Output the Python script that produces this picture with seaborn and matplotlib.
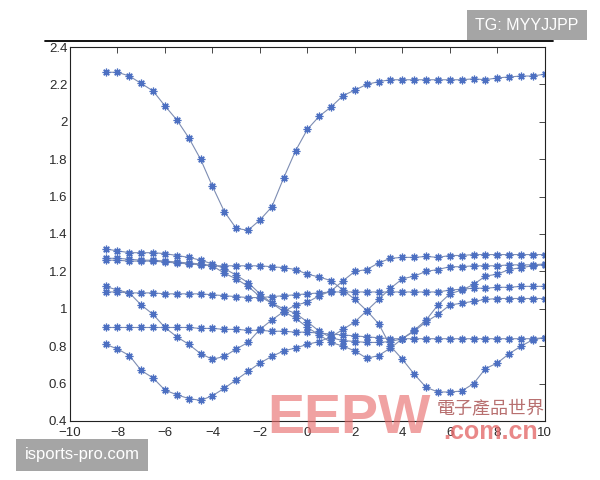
import numpy as np
import pandas as pd
import matplotlib.pyplot as plt
import seaborn as sns
from matplotlib.lines import Line2D

# x positions of the samples (every 0.5 from -8.5 to 10)
x = np.arange(-8.5, 10.01, 0.5)

top = [2.265, 2.265, 2.245, 2.205, 2.165, 2.085, 2.01, 1.915, 1.80, 1.655,
       1.52, 1.43, 1.42, 1.475, 1.545, 1.70, 1.845, 1.96, 2.03, 2.08,
       2.14, 2.17, 2.20, 2.215, 2.225, 2.225, 2.225, 2.225, 2.225, 2.225,
       2.225, 2.23, 2.225, 2.235, 2.24, 2.245, 2.245, 2.255]
curve_a = [1.32, 1.31, 1.30, 1.30, 1.30, 1.295, 1.285, 1.275, 1.26, 1.24,
           1.215, 1.18, 1.14, 1.08, 1.03, 0.985, 0.95, 0.90, 0.86, 0.82,
           0.80, 0.775, 0.735, 0.75, 0.79, 0.84, 0.88, 0.93, 0.97, 1.02,
           1.03, 1.04, 1.05, 1.055, 1.055, 1.055, 1.055, 1.055]
curve_b = [1.27, 1.27, 1.265, 1.26, 1.26, 1.255, 1.25, 1.245, 1.24, 1.23,
           1.19, 1.16, 1.12, 1.065, 1.03, 1.00, 0.975, 0.93, 0.88, 0.845,
           0.83, 0.825, 0.82, 0.82, 0.825, 0.84, 0.885, 0.94, 1.02, 1.08,
           1.10, 1.13, 1.175, 1.185, 1.21, 1.22, 1.23, 1.235]
curve_c = [1.26, 1.26, 1.255, 1.255, 1.255, 1.25, 1.245, 1.24, 1.235, 1.23,
           1.23, 1.23, 1.23, 1.23, 1.225, 1.22, 1.21, 1.185, 1.17, 1.15,
           1.10, 1.05, 0.99, 0.92, 0.80, 0.73, 0.65, 0.58, 0.555, 0.555,
           0.56, 0.60, 0.68, 0.71, 0.76, 0.80, 0.835, 0.845]
curve_d = [1.09, 1.09, 1.085, 1.085, 1.085, 1.08, 1.08, 1.08, 1.08, 1.075,
           1.07, 1.065, 1.06, 1.06, 1.065, 1.07, 1.075, 1.08, 1.085, 1.09,
           1.09, 1.09, 1.09, 1.09, 1.09, 1.09, 1.09, 1.09, 1.09, 1.10,
           1.105, 1.11, 1.11, 1.115, 1.115, 1.12, 1.12, 1.12]
curve_e = [1.12, 1.10, 1.085, 1.02, 0.97, 0.90, 0.85, 0.81, 0.76, 0.73,
           0.745, 0.785, 0.82, 0.89, 0.94, 0.985, 1.02, 1.035, 1.07, 1.095,
           1.15, 1.20, 1.21, 1.245, 1.27, 1.275, 1.275, 1.28, 1.275, 1.285,
           1.285, 1.29, 1.29, 1.29, 1.29, 1.29, 1.29, 1.29]
curve_f = [0.90, 0.90, 0.90, 0.90, 0.90, 0.90, 0.90, 0.90, 0.895, 0.895,
           0.89, 0.89, 0.885, 0.885, 0.88, 0.88, 0.875, 0.875, 0.87, 0.865,
           0.86, 0.855, 0.85, 0.845, 0.84, 0.84, 0.84, 0.84, 0.84, 0.84,
           0.84, 0.84, 0.84, 0.84, 0.84, 0.84, 0.84, 0.845]
curve_g = [0.81, 0.785, 0.75, 0.67, 0.63, 0.565, 0.54, 0.52, 0.51, 0.535,
           0.575, 0.62, 0.665, 0.71, 0.745, 0.775, 0.79, 0.81, 0.825, 0.85,
           0.89, 0.93, 0.99, 1.05, 1.11, 1.16, 1.175, 1.20, 1.21, 1.225,
           1.225, 1.23, 1.23, 1.23, 1.235, 1.235, 1.235, 1.24]

curves = {'top': top, 'a': curve_a, 'b': curve_b, 'c': curve_c, 'd': curve_d,
          'e': curve_e, 'f': curve_f, 'g': curve_g}

frames = [pd.DataFrame({'x': x, 'y': v, 'curve': k}) for k, v in curves.items()]
df = pd.concat(frames, ignore_index=True)

sns.set_theme(style='white')
plt.rcParams['font.family'] = ['Liberation Sans', 'DejaVu Sans']
plt.rcParams['xtick.direction'] = 'in'
plt.rcParams['ytick.direction'] = 'in'

fig = plt.figure(figsize=(6, 4.8), dpi=100)
ax = fig.add_axes([0.1167, 0.123, 0.7913, 0.779])

line_color = '#7d8db3'
palette = {k: line_color for k in curves}
sns.lineplot(data=df, x='x', y='y', hue='curve', palette=palette, units='curve',
             estimator=None, sort=False, legend=False, ax=ax,
             linewidth=0.8, marker=(8, 2, 0), markersize=5.5,
             markeredgecolor='#4d70c2', markeredgewidth=0.9)

ax.set_xlim(-10, 10)
ax.set_ylim(0.4, 2.4)
ax.set_xticks(np.arange(-10, 11, 2))
ax.set_yticks(np.arange(0.4, 2.41, 0.2))
ax.set_yticklabels(['0.4', '0.6', '0.8', '1', '1.2', '1.4', '1.6', '1.8', '2', '2.2', '2.4'])
ax.set_xlabel('')
ax.set_ylabel('')
ax.tick_params(axis='both', labelsize=9.5, colors='#2a2a2a', length=4, width=0.6,
               top=True, right=True)
ax.tick_params(axis='x', pad=4)
ax.tick_params(axis='y', pad=2)
for s in ax.spines.values():
    s.set_color('#222222')
    s.set_linewidth(0.8)

# dark rule above the plot
fig.add_artist(Line2D([45 / 600, 553 / 600], [1 - 41 / 480, 1 - 41 / 480],
                      color='black', linewidth=1.3))

# watermark text
fig.text(349 / 600, 1 - 419 / 480, 'EEPW', fontsize=40, fontweight='heavy',
         color='#e86a6a', alpha=0.62, ha='center', va='center', zorder=0)
fig.text(491 / 600, 1 - 408 / 480, '電子產品世界', fontsize=13, color='#b87070',
         family=['Noto Sans CJK TC', 'DejaVu Sans'], ha='center', va='center')
fig.text(491 / 600, 1 - 432 / 480, '.com.cn', fontsize=18, fontweight='bold',
         color='#e46a6a', alpha=0.8, ha='center', va='center')

fig.text(527 / 600, 1 - 25 / 480, 'TG: MYYJJPP', fontsize=11.5, color='white',
         ha='center', va='center',
         bbox=dict(boxstyle='square,pad=0.5', facecolor='#a5a5a5', edgecolor='none'))
fig.text(82 / 600, 1 - 455 / 480, 'isports-pro.com', fontsize=12, color='white',
         ha='center', va='center',
         bbox=dict(boxstyle='square,pad=0.5', facecolor='#a5a5a5', edgecolor='none'))

fig.savefig('out.png', dpi=100)
